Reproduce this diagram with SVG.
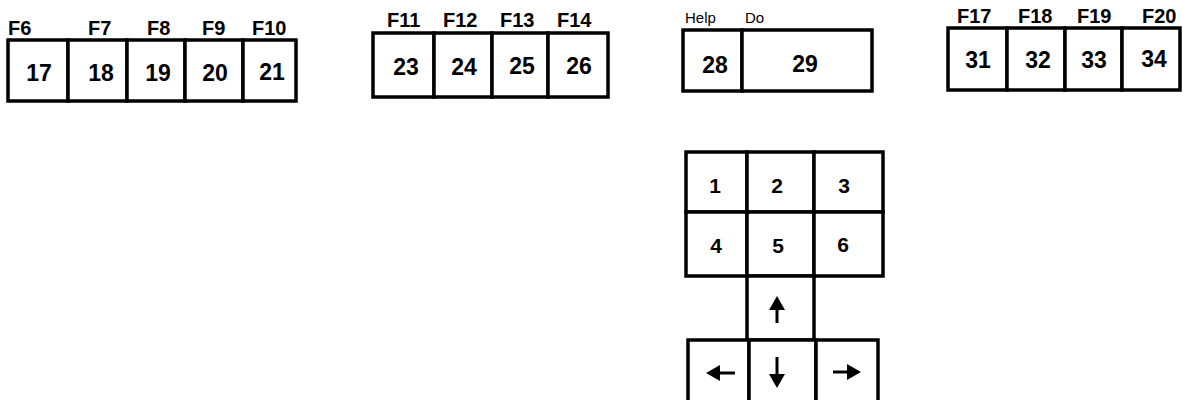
<svg xmlns="http://www.w3.org/2000/svg" width="1183" height="400" viewBox="0 0 1183 400">
<defs>
<style>
.k{fill:#fff;stroke:#000;stroke-width:3.5}
.n{font-family:"Liberation Sans",Arial,sans-serif;font-weight:bold;font-size:23px;text-anchor:middle;fill:#000}
.s{font-size:21px}
.f{font-family:"Liberation Sans",Arial,sans-serif;font-weight:bold;font-size:20px;fill:#000}
.h{font-family:"Liberation Sans",Arial,sans-serif;font-size:15px;fill:#000}
.a{stroke:#000;stroke-width:3;fill:none}
.t{fill:#000}
</style>
</defs>
<rect width="1183" height="400" fill="#fff"/>

<g id="group-f6-f10">
<text class="f" x="8" y="35">F6</text>
<text class="f" x="88" y="35">F7</text>
<text class="f" x="147" y="35">F8</text>
<text class="f" x="202" y="35">F9</text>
<text class="f" x="252" y="35">F10</text>
<g id="key17"><rect class="k" x="8" y="40" width="60" height="61"/><text class="n" x="39" y="81">17</text></g>
<g id="key18"><rect class="k" x="68" y="40" width="59" height="61"/><text class="n" x="101" y="81">18</text></g>
<g id="key19"><rect class="k" x="127" y="40" width="58" height="61"/><text class="n" x="158" y="81">19</text></g>
<g id="key20"><rect class="k" x="185" y="40" width="58" height="61"/><text class="n" x="215" y="81">20</text></g>
<g id="key21"><rect class="k" x="243" y="40" width="53" height="61"/><text class="n" x="272" y="80">21</text></g>
</g>

<g id="group-f11-f14">
<text class="f" x="387" y="27">F11</text>
<text class="f" x="443" y="27">F12</text>
<text class="f" x="500" y="27">F13</text>
<text class="f" x="557" y="27">F14</text>
<g id="key23"><rect class="k" x="373" y="33" width="61" height="64"/><text class="n" x="406" y="75">23</text></g>
<g id="key24"><rect class="k" x="434" y="33" width="58" height="64"/><text class="n" x="464" y="75">24</text></g>
<g id="key25"><rect class="k" x="492" y="33" width="56" height="64"/><text class="n" x="522" y="74">25</text></g>
<g id="key26"><rect class="k" x="548" y="33" width="60" height="64"/><text class="n" x="579" y="74">26</text></g>
</g>

<g id="group-help-do">
<text class="h" x="685" y="23">Help</text>
<text class="h" x="745" y="23">Do</text>
<g id="key28"><rect class="k" x="683" y="30" width="59" height="61"/><text class="n" x="715" y="73">28</text></g>
<g id="key29"><rect class="k" x="742" y="30" width="130" height="61"/><text class="n" x="805" y="72">29</text></g>
</g>

<g id="group-f17-f20">
<text class="f" x="957" y="23">F17</text>
<text class="f" x="1018" y="23">F18</text>
<text class="f" x="1077" y="23">F19</text>
<text class="f" x="1142" y="23">F20</text>
<g id="key31"><rect class="k" x="948" y="28" width="59" height="62"/><text class="n" x="978" y="68">31</text></g>
<g id="key32"><rect class="k" x="1007" y="28" width="58" height="62"/><text class="n" x="1038" y="68">32</text></g>
<g id="key33"><rect class="k" x="1065" y="28" width="57" height="62"/><text class="n" x="1094" y="68">33</text></g>
<g id="key34"><rect class="k" x="1122" y="28" width="58" height="62"/><text class="n" x="1154" y="67">34</text></g>
</g>

<g id="keypad">
<g id="key1"><rect class="k" x="686" y="152" width="61" height="60"/><text class="n s" x="715" y="193">1</text></g>
<g id="key2"><rect class="k" x="747" y="152" width="67" height="60"/><text class="n s" x="777" y="193">2</text></g>
<g id="key3"><rect class="k" x="814" y="152" width="69" height="60"/><text class="n s" x="844" y="193">3</text></g>
<g id="key4"><rect class="k" x="686" y="212" width="61" height="64"/><text class="n s" x="716" y="253">4</text></g>
<g id="key5"><rect class="k" x="747" y="212" width="67" height="64"/><text class="n s" x="778" y="253">5</text></g>
<g id="key6"><rect class="k" x="814" y="212" width="69" height="64"/><text class="n s" x="843" y="252">6</text></g>
<g id="key-up"><rect class="k" x="747" y="276" width="67" height="64"/><line class="a" x1="777" y1="323" x2="777" y2="306"/><polygon class="t" points="777,296 769,310 785,310"/></g>
<g id="key-left"><rect class="k" x="688" y="340" width="61" height="66"/><line class="a" x1="735" y1="373" x2="716" y2="373"/><polygon class="t" points="706,373 720,365 720,381"/></g>
<g id="key-down"><rect class="k" x="749" y="340" width="67" height="66"/><line class="a" x1="777" y1="357" x2="777" y2="377"/><polygon class="t" points="777,388 769,374 785,374"/></g>
<g id="key-right"><rect class="k" x="816" y="340" width="62" height="66"/><line class="a" x1="833" y1="372" x2="852" y2="372"/><polygon class="t" points="861,372 847,364 847,380"/></g>
</g>

<g id="connectors"/>
</svg>
